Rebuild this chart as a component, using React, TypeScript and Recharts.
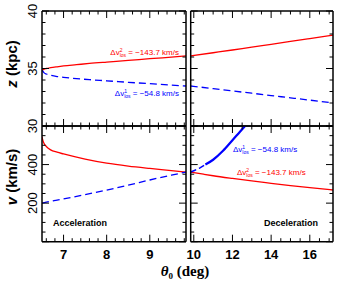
import React from 'react'
import { LineChart, Line, XAxis, YAxis } from 'recharts'

const W = 341
const H = 287

// panel edges in page pixels
const LEFT_X = [42, 186]
const RIGHT_X = [190.7, 333]
const TOP_Y = [11, 126]
const BOT_Y = [126, 241.7]

const RED = '#ff0000'
const BLUE = '#0000ff'

// acceleration side, z (kpc)
const thetaAccZ = [6.5, 6.55, 6.6, 6.7, 6.85, 7.0, 7.3, 7.6, 8.0, 8.5, 9.0, 9.5, 9.84]
const zRedAcc = [34.85, 34.95, 35.0, 35.07, 35.15, 35.22, 35.33, 35.44, 35.56, 35.7, 35.85, 35.99, 36.09]
const zBlueAcc = [34.85, 34.62, 34.52, 34.41, 34.3, 34.23, 34.12, 34.03, 33.93, 33.8, 33.68, 33.56, 33.48]

// deceleration side, z (kpc)
const thetaDecZ = [9.84, 11, 12, 13, 14, 15, 16, 17.2]
const zRedDec = [36.09, 36.37, 36.61, 36.86, 37.1, 37.35, 37.6, 37.9]
const zBlueDec = [33.48, 33.25, 33.05, 32.85, 32.65, 32.45, 32.25, 32.0]

// acceleration side, v (km/s)
const thetaAccV = [6.5, 6.52, 6.56, 6.6, 6.7, 6.85, 7.0, 7.5, 8.0, 8.5, 9.0, 9.5, 9.84]
const vRedAcc = [545, 525, 505, 494, 476, 464, 455, 428, 407, 392, 380, 369, 361]
const vBlueAcc = [200, 201, 203, 205, 209, 216, 222, 244, 268, 293, 320, 345, 361]

// deceleration side, v (km/s)
const thetaDecVRed = [9.84, 10.5, 11, 12, 13, 14, 15, 16, 17.2]
const vRedDec = [361, 350, 342, 328, 315, 303, 291, 280, 268]
const thetaDecVBlueDash = [9.84, 10.0, 10.3, 10.6]
const vBlueDecDash = [361, 368, 382, 400]
const thetaDecVBlueSolid = [10.6, 11.0, 11.5, 12.0, 12.4, 12.65]
const vBlueDecSolid = [400, 425, 470, 526, 572, 600]

// ticks
const range = (a: number, b: number, s: number) => {
  const out: number[] = []
  for (let v = a; v <= b + 1e-9; v += s) out.push(+v.toFixed(3))
  return out
}
const accTicks = range(6.6, 9.8, 0.2)
const decTicks = range(10, 17, 0.5)
const zTicks = range(30, 40, 1)
const vTicks = range(0, 600, 50)
const accLabels = [7, 8, 9]
const decLabels = [10, 12, 14, 16]
const zLabels = [30, 35, 40]
const vLabels = [200, 400]

const pts = (t: number[], v: number[]) => t.map((x, i) => ({ t: x, v: v[i] }))

type Side = 'bottom' | 'top' | 'left' | 'right'

const makeTick = (side: Side, major: number, labels: number[] = []) => (p: any) => {
  const { x, y, payload } = p
  const val = payload.value
  const isMajor = Math.abs(val / major - Math.round(val / major)) < 1e-6
  const L = isMajor ? 7 : 3.5
  let line
  if (side === 'bottom') line = <line x1={x} x2={x} y1={y} y2={y - L} />
  else if (side === 'top') line = <line x1={x} x2={x} y1={y} y2={y + L} />
  else if (side === 'left') line = <line x1={x} x2={x + L} y1={y} y2={y} />
  else line = <line x1={x} x2={x - L} y1={y} y2={y} />
  const hasLabel = labels.some(l => Math.abs(l - val) < 1e-6)
  let label = null
  if (hasLabel && side === 'bottom') {
    label = (
      <text x={x} y={y + 17} textAnchor="middle" fontSize={13} fontWeight="bold" fill="#000" stroke="none"
        fontFamily="Liberation Sans, sans-serif">{val}</text>
    )
  }
  if (hasLabel && side === 'left') {
    label = (
      <text x={x - 5} y={y} textAnchor="middle" fontSize={13} fill="#000" stroke="none"
        fontFamily="Liberation Sans, sans-serif" transform={`rotate(-90 ${x - 5} ${y})`}>{val}</text>
    )
  }
  return (
    <g>
      <g stroke="#000" strokeWidth={1}>{line}</g>
      {label}
    </g>
  )
}

const box = { stroke: '#000', strokeWidth: 1.5 }

interface PanelProps {
  xr: number[]
  yr: number[]
  xDomain: number[]
  yDomain: number[]
  xTicks: number[]
  yTicks: number[]
  xMajor: number
  yMajor: number
  xLabels?: number[]
  yLabels?: number[]
  children: React.ReactNode
}

function Panel({ xr, yr, xDomain, yDomain, xTicks, yTicks, xMajor, yMajor, xLabels, yLabels, children }: PanelProps) {
  return (
    <div style={{ position: 'absolute', left: 0, top: 0 }}>
      <LineChart
        width={W}
        height={H}
        margin={{ left: xr[0] - 1, right: W - xr[1] - 1, top: yr[0] - 1, bottom: H - yr[1] - 1 }}
      >
        <XAxis xAxisId="b" type="number" dataKey="t" domain={xDomain} ticks={xTicks} interval={0}
          height={1} tickSize={0} tickMargin={0} axisLine={box} tickLine={false}
          tick={makeTick('bottom', xMajor, xLabels)} allowDataOverflow />
        <XAxis xAxisId="t" orientation="top" type="number" dataKey="t" domain={xDomain} ticks={xTicks} interval={0}
          height={1} tickSize={0} tickMargin={0} axisLine={box} tickLine={false}
          tick={makeTick('top', xMajor)} allowDataOverflow />
        <YAxis yAxisId="l" type="number" domain={yDomain} ticks={yTicks} interval={0}
          width={1} tickSize={0} tickMargin={0} axisLine={box} tickLine={false}
          tick={makeTick('left', yMajor, yLabels)} allowDataOverflow />
        <YAxis yAxisId="r" orientation="right" type="number" domain={yDomain} ticks={yTicks} interval={0}
          width={1} tickSize={0} tickMargin={0} axisLine={box} tickLine={false}
          tick={makeTick('right', yMajor)} allowDataOverflow />
        {children}
      </LineChart>
    </div>
  )
}

const lineProps = {
  xAxisId: 'b',
  yAxisId: 'l',
  type: 'monotone' as const,
  dataKey: 'v',
  dot: false,
  activeDot: false,
  isAnimationActive: false,
}

function DvLabel({ x, y, sup, value, color, anchor }: { x: number; y: number; sup: string; value: string; color: string; anchor: 'start' | 'end' }) {
  return (
    <text x={x} y={y} fill={color} fontSize={8} fontFamily="Liberation Sans, sans-serif" textAnchor={anchor}>
      Δv<tspan fontSize={5} dy={-3}>{sup}</tspan>
      <tspan fontSize={5} dx={-2.8} dy={5}>los</tspan>
      <tspan dy={-2}>{` = −${value} km/s`}</tspan>
    </text>
  )
}

export default function App() {
  return (
    <div style={{ position: 'absolute', left: 0, top: 0, width: W, height: H, background: '#fff' }}>
      <Panel xr={LEFT_X} yr={TOP_Y} xDomain={[6.5, 9.84]} yDomain={[30, 40]} xTicks={accTicks} yTicks={zTicks}
        xMajor={1} yMajor={5} yLabels={zLabels}>
        <Line {...lineProps} data={pts(thetaAccZ, zRedAcc)} stroke={RED} strokeWidth={1.3} />
        <Line {...lineProps} data={pts(thetaAccZ, zBlueAcc)} stroke={BLUE} strokeWidth={1.3} strokeDasharray="7 4" />
      </Panel>
      <Panel xr={RIGHT_X} yr={TOP_Y} xDomain={[9.84, 17.2]} yDomain={[30, 40]} xTicks={decTicks} yTicks={zTicks}
        xMajor={2} yMajor={5}>
        <Line {...lineProps} data={pts(thetaDecZ, zRedDec)} stroke={RED} strokeWidth={1.3} />
        <Line {...lineProps} data={pts(thetaDecZ, zBlueDec)} stroke={BLUE} strokeWidth={1.3} strokeDasharray="7 4" />
      </Panel>
      <Panel xr={LEFT_X} yr={BOT_Y} xDomain={[6.5, 9.84]} yDomain={[0, 600]} xTicks={accTicks} yTicks={vTicks}
        xMajor={1} yMajor={200} xLabels={accLabels} yLabels={vLabels}>
        <Line {...lineProps} data={pts(thetaAccV, vRedAcc)} stroke={RED} strokeWidth={1.3} />
        <Line {...lineProps} data={pts(thetaAccV, vBlueAcc)} stroke={BLUE} strokeWidth={1.3} strokeDasharray="7 4" />
      </Panel>
      <Panel xr={RIGHT_X} yr={BOT_Y} xDomain={[9.84, 17.2]} yDomain={[0, 600]} xTicks={decTicks} yTicks={vTicks}
        xMajor={2} yMajor={200} xLabels={decLabels}>
        <Line {...lineProps} data={pts(thetaDecVRed, vRedDec)} stroke={RED} strokeWidth={1.3} />
        <Line {...lineProps} data={pts(thetaDecVBlueDash, vBlueDecDash)} stroke={BLUE} strokeWidth={1.5} strokeDasharray="6 3" />
        <Line {...lineProps} data={pts(thetaDecVBlueSolid, vBlueDecSolid)} stroke={BLUE} strokeWidth={2.2} />
      </Panel>
      <svg width={W} height={H} style={{ position: 'absolute', left: 0, top: 0, pointerEvents: 'none' }}>
        <DvLabel x={179} y={55} sup="2" value="143.7" color={RED} anchor="end" />
        <DvLabel x={179} y={95.5} sup="1" value="54.8" color={BLUE} anchor="end" />
        <DvLabel x={233} y={151.5} sup="1" value="54.8" color={BLUE} anchor="start" />
        <DvLabel x={237} y={175} sup="2" value="143.7" color={RED} anchor="start" />
        <text x={53} y={226} fontSize={9} fontWeight="bold" fontFamily="Liberation Sans, sans-serif">Acceleration</text>
        <text x={318} y={226} fontSize={9} fontWeight="bold" textAnchor="end" fontFamily="Liberation Sans, sans-serif">Deceleration</text>
        <text x={17} y={64} fontSize={15} fontWeight="bold" textAnchor="middle" fontFamily="Liberation Sans, sans-serif"
          transform="rotate(-90 17 64)">
          <tspan fontStyle="italic">z</tspan> (kpc)
        </text>
        <text x={16.5} y={177} fontSize={15} fontWeight="bold" textAnchor="middle" fontFamily="Liberation Sans, sans-serif"
          transform="rotate(-90 16.5 177)">
          <tspan fontStyle="italic">v</tspan> (km/s)
        </text>
        <text x={185} y={276} fontSize={15} fontWeight="bold" textAnchor="middle" fontFamily="Liberation Serif, serif">
          <tspan fontStyle="italic">θ</tspan><tspan fontSize={9} dy={3}>0</tspan><tspan dy={-3}> (deg)</tspan>
        </text>
      </svg>
    </div>
  )
}
